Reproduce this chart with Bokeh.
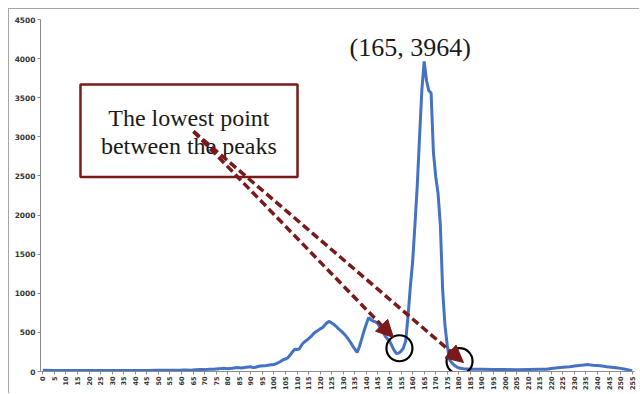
import math
from bokeh.plotting import figure
from bokeh.models import (Range1d, FixedTicker, BoxAnnotation, Label, Arrow,
                          NormalHead, ColumnDataSource)
from bokeh.embed import file_html
from bokeh.resources import INLINE

# ---- data ----
hist_x = [0, 5, 10, 15, 20, 25, 30, 35, 40, 45, 50, 55,
          60, 62, 64, 66, 68, 70, 72, 74, 76, 78, 80, 82, 84, 86, 88, 90, 91, 92, 94, 96, 98,
          100, 101, 102, 103, 104, 105, 106, 107, 108, 109, 110, 111, 112, 113, 114, 115,
          116, 117, 118, 119, 120, 121, 122, 123, 124, 125, 126, 127, 128, 129, 130,
          131, 132, 133, 134, 135, 136, 137, 138, 139, 140, 141, 142, 143, 144, 145,
          146, 147, 148, 149, 150, 151, 152, 153, 154, 155, 156, 157, 158, 159, 160,
          161, 162, 163, 164, 165, 166, 167, 168, 169, 170, 171, 172, 173, 174, 175,
          176, 177, 178, 179, 180, 182, 185, 190, 195, 200, 205, 210, 215, 218, 220,
          222, 225, 228, 230, 232, 234, 236, 238, 240, 242, 244, 246, 248, 250, 252, 254, 255]
hist_y = [15, 12, 14, 12, 13, 12, 14, 12, 13, 14, 15, 16,
          18, 20, 17, 22, 25, 24, 30, 28, 35, 40, 36, 42, 50, 45, 55, 60, 50, 55, 70, 72, 82,
          90, 100, 115, 130, 150, 160, 175, 210, 250, 285, 280, 290, 340, 375, 395, 420,
          445, 480, 505, 525, 545, 560, 595, 625, 640, 620, 600, 575, 545, 520, 490,
          460, 420, 380, 330, 285, 245, 320, 420, 520, 610, 690, 660, 645, 635, 610,
          560, 510, 460, 420, 390, 330, 270, 230, 235, 260, 300, 390, 700, 1080, 1400,
          1870, 2370, 3000, 3600, 3964, 3720, 3590, 3560, 2800, 2490, 2280, 1870, 1040, 590, 330,
          150, 110, 80, 60, 45, 35, 30, 28, 25, 25, 22, 25, 28, 30, 38,
          45, 55, 62, 70, 78, 82, 88, 80, 78, 70, 62, 55, 48, 40, 30, 15, 10]

x_ticks = list(range(0, 256, 5))
y_ticks = list(range(0, 4501, 500))

note_lines = ["The lowest point", "between the peaks"]
# annotation anchors (data space)
circle_x = [154.3, 180.3]
circle_y = [297, 132]
arrow_start = (65.2, 3069)
arrow_ends = [(151.7, 435), (182.0, 115)]

BLUE = "#4472C4"
DARK_RED = "#7B1A1A"
AXIS = "#8C8C8C"

p = figure(width=631, height=385, output_backend="svg", toolbar_location=None,
           x_range=Range1d(-1, 256), y_range=Range1d(0, 4500),
           min_border_left=31, min_border_right=6, min_border_top=10, min_border_bottom=23)
p.styles = {"margin-left": "8px", "margin-top": "8px",
            "border-top": "1px solid #a6a6a6", "border-left": "1px solid #a6a6a6"}
p.outline_line_color = None
p.xgrid.grid_line_color = None
p.ygrid.grid_line_color = None
p.background_fill_color = "white"

# axes
p.xaxis.ticker = FixedTicker(ticks=x_ticks)
p.yaxis.ticker = FixedTicker(ticks=y_ticks)
p.xaxis.major_label_orientation = math.pi / 2
for ax in (p.xaxis, p.yaxis):
    ax.axis_line_color = AXIS
    ax.major_tick_line_color = AXIS
    ax.minor_tick_line_color = None
    ax.major_tick_in = 0
    ax.major_tick_out = 3
    ax.major_label_text_color = "#333333"
    ax.major_label_text_font = "DejaVu Sans"
    ax.major_label_text_font_style = "bold"
    ax.major_label_standoff = 2
p.xaxis.major_label_text_font_size = "6.5px"
p.yaxis.major_label_text_font_size = "7.5px"

src = ColumnDataSource(dict(x=hist_x, y=hist_y))
p.line("x", "y", source=src, line_color=BLUE, line_width=3)

# text box
p.add_layout(BoxAnnotation(left=16.3, right=110.2, bottom=2487, top=3670,
                           fill_color="white", fill_alpha=1.0,
                           line_color=DARK_RED, line_width=2.5, line_alpha=1.0))
for i, t in enumerate(note_lines):
    p.add_layout(Label(x=63.2, y=3235 - i * 358, text=t, text_align="center",
                       text_baseline="alphabetic", text_font="Liberation Serif",
                       text_font_size="24px", text_color="#1a1a1a"))

# peak label
imax = max(range(len(hist_y)), key=lambda i: hist_y[i])
px, py = hist_x[imax], hist_y[imax]
p.add_layout(Label(x=px, y=py, x_offset=-14, y_offset=14, text=f"({px}, {py})",
                   text_align="center", text_baseline="alphabetic",
                   text_font="Liberation Serif", text_font_size="26px",
                   text_color="#1a1a1a"))

# arrows
for ex, ey in arrow_ends:
    p.add_layout(Arrow(end=NormalHead(size=17, fill_color=DARK_RED, line_color=DARK_RED),
                       x_start=arrow_start[0], y_start=arrow_start[1], x_end=ex, y_end=ey,
                       line_color=DARK_RED, line_width=3.5, line_dash="8 4"))

# circles
p.scatter(circle_x, circle_y, size=26, marker="circle", fill_color=None,
          line_color="black", line_width=2.2)

open("out.html", "w").write(file_html(p, INLINE))
